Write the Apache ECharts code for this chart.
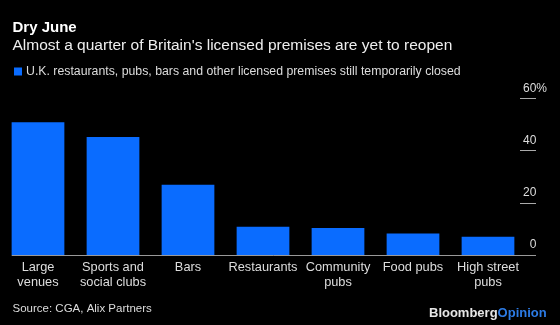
<!DOCTYPE html>
<html><head><meta charset="utf-8">
<script src="https://cdn.jsdelivr.net/npm/echarts@6/dist/echarts.min.js"></script>
<style>html,body{margin:0;padding:0;background:#000;}#c{width:560px;height:325px;}</style>
</head><body><div id="c"></div>
<script>
const categories = ['Large\nvenues', 'Sports and\nsocial clubs', 'Bars', 'Restaurants', 'Community\npubs', 'Food pubs', 'High street\npubs'];
const closedShare = [50.8, 45.2, 26.9, 10.8, 10.3, 8.2, 7.0];
const yTicks = [0, 20, 40, 60];
const seriesName = 'U.K. restaurants, pubs, bars and other licensed premises still temporarily closed';

const FONT = '"Liberation Sans", Arial, Helvetica, sans-serif';
const BLUE = '#0a6cff';
const chart = echarts.init(document.getElementById('c'), null, {renderer: 'canvas'});
const option = {
  backgroundColor: '#000',
  animation: false,
  title: [
    {text: 'Dry June', left: 7.5, top: 15, textStyle: {color: '#fff', fontFamily: FONT, fontWeight: 'bold', fontSize: 15}},
    {text: "Almost a quarter of Britain's licensed premises are yet to reopen", left: 7.5, top: 33, textStyle: {color: '#eee', fontFamily: FONT, fontWeight: 'normal', fontSize: 15.5}},
    {text: 'Source: CGA, Alix Partners', left: 7.5, top: 298, textStyle: {color: '#ddd', fontFamily: FONT, fontWeight: 'normal', fontSize: 11.5}},
    {text: '{b|Bloomberg}{o|Opinion}', right: 8.3, top: 301.5, textStyle: {rich: {
      b: {color: '#e6e6e6', fontFamily: FONT, fontWeight: 'bold', fontSize: 13},
      o: {color: '#2c7be5', fontFamily: FONT, fontWeight: 'bold', fontSize: 13}}}}
  ],
  legend: {
    left: 9, top: 60.5, icon: 'rect', itemWidth: 8, itemHeight: 8, itemGap: 10,
    textStyle: {color: '#ddd', fontFamily: FONT, fontSize: 12.3, padding: [0,0,0,-1]},
    data: [seriesName]
  },
  grid: {left: 0.5, width: 525, top: 98.3, bottom: 70},
  xAxis: {
    type: 'category', data: categories,
    axisLine: {show: false}, axisTick: {show: false},
    axisLabel: {color: '#ddd', fontFamily: FONT, fontSize: 12.8, lineHeight: 15, margin: 5, interval: 0}
  },
  yAxis: {
    type: 'value', position: 'right', offset: 10.5, min: 0, max: 60, interval: 20,
    splitLine: {show: false}, axisLine: {show: false},
    axisTick: {show: true, inside: true, length: 16, lineStyle: {color: '#aaa', width: 1}},
    axisLabel: {
      inside: false, align: 'right', verticalAlign: 'bottom', margin: 11,
      color: '#ddd', fontFamily: FONT, fontSize: 12, lineHeight: 12, padding: [0,0,4,0],
      formatter: v => yTicks.indexOf(v) < 0 ? '' : (v === 60 ? v + '{p|%}' : v + '{h|%}'),
      rich: {p: {color: '#ddd', fontFamily: FONT, fontSize: 12, lineHeight: 12},
             h: {color: 'rgba(0,0,0,0)', fontFamily: FONT, fontSize: 12, lineHeight: 12}}
    }
  },
  series: [{
    name: seriesName, type: 'bar', data: closedShare, barCategoryGap: '29.7%',
    itemStyle: {color: BLUE}
  }]
};
chart.setOption(option);
const y0 = chart.convertToPixel({yAxisIndex: 0}, 0);
const xStart = chart.convertToPixel({xAxisIndex: 0}, 0) - 26.3;
chart.setOption({graphic: [{type: 'line', silent: true, z: 10,
  shape: {x1: xStart, y1: y0 + 0.5, x2: 536, y2: y0 + 0.5}, style: {stroke: '#999', lineWidth: 1}}]});
</script></body></html>
